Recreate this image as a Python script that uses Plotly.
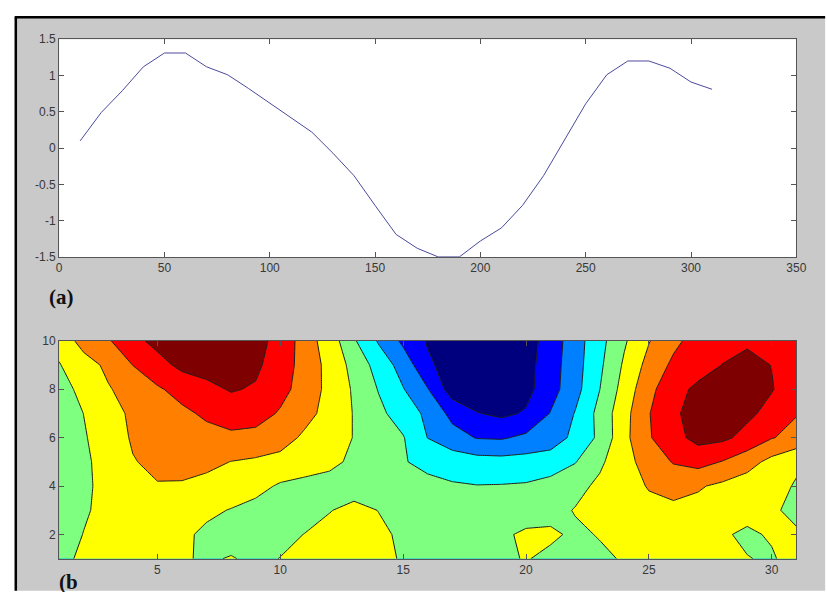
import plotly.graph_objects as go

# ---- data: panel (a) line ----
line_x = [10, 20, 30, 40, 50, 60, 70, 80, 90, 100, 110, 120, 130, 140, 150, 160,
          170, 180, 190, 200, 210, 220, 230, 240, 250, 260, 270, 280, 290, 300, 310]
line_y = [0.10, 0.49, 0.79, 1.12, 1.31, 1.31, 1.12, 1.01, 0.82, 0.62, 0.41, 0.22,
          -0.07, -0.38, -0.79, -1.19, -1.38, -1.50, -1.50, -1.28, -1.10, -0.79,
          -0.38, 0.11, 0.61, 1.01, 1.20, 1.20, 1.10, 0.91, 0.81]

# ---- data: panel (b) filled contour (rows y=1..10, columns x=1..31) ----
grid_x = list(range(1, 32))
grid_y = list(range(1, 11))
z_row1 = [0.2, 0.7, 0.9, 1.0, 0.95, 0.6, 0.38, 0.56, 0.3, 0.52, 0.8, 1.0, 1.0, 0.7, 0.43, 0.2,
          0.1, 0.15, 0.35, 0.55, 0.3, 0.2, 0.35, 0.57, 0.9, 1.1, 1.0, 0.8, 0.53, 0.4, 0.9]
z_row2 = [0.1, 0.52, 0.8, 0.95, 0.9, 0.7, 0.3, 0.1, 0.1, 0.25, 0.52, 0.85, 0.9, 0.7, 0.33, 0.1,
          0.0, 0.1, 0.3, 0.7, 0.65, 0.35, 0.55, 0.9, 1.1, 1.2, 1.0, 0.6, 0.35, 0.6, 0.68]
z_row3 = [-0.2, 0.4, 0.75, 0.9, 1.0, 0.95, 0.7, 0.45, 0.2, 0.1, 0.15, 0.45, 0.8, 0.48, 0.2, 0.0,
          -0.1, -0.2, -0.2, -0.1, 0.2, 0.55, 1.0, 1.2, 1.3, 1.3, 1.2, 1.0, 0.8, 0.7, 0.15]
z_row4 = [-0.15, 0.35, 0.75, 1.1, 1.45, 1.4, 1.2, 1.1, 0.8, 0.38, 0.2, 0.1, 0.0, -0.1, -0.2, -0.3,
          -0.4, -0.47, -0.45, -0.4, -0.2, 0.2, 0.7, 1.2, 1.55, 1.8, 1.6, 1.3, 1.0, 0.8, 0.425]
z_row5 = [-0.2, 0.33, 0.86, 1.45, 1.7, 1.85, 1.75, 1.48, 1.35, 1.2, 1.0, 0.75, 0.3, -0.07, -0.45, -0.7,
          -0.95, -1.1, -1.15, -1.1, -0.95, -0.55, 0.32, 1.17, 1.9, 2.57, 2.85, 2.45, 1.9, 1.2, 0.65]
z_row6 = [-0.18, 0.41, 1.0, 1.6, 1.8, 2.0, 2.2, 2.3, 2.2, 1.9, 1.33, 0.9, 0.47, 0.02, -0.44, -1.52,
          -2.1, -2.55, -2.6, -2.3, -2.06, -1.23, -0.3, 1.23, 2.41, 3.18, 3.8, 3.7, 3.2, 2.55, 2.2]
z_row7 = [-0.14, 0.51, 1.16, 1.66, 1.98, 2.31, 2.65, 2.95, 2.9, 2.4, 1.81, 1.17, 0.45, -0.27, -0.96, -1.71,
          -2.8, -3.45, -3.7, -3.4, -2.45, -1.45, -0.19, 1.17, 2.45, 3.4, 3.75, 3.9, 3.7, 3.2, 2.55]
z_row8 = [0.12, 0.77, 1.42, 1.91, 2.38, 2.82, 3.23, 3.58, 3.4, 2.81, 2.09, 1.22, 0.38, -0.55, -1.45, -2.45,
          -4.0, -4.2, -4.2, -3.8, -2.89, -1.85, -0.51, 0.9, 2.22, 3.17, 3.7, 4.0, 4.0, 3.55, 3.0]
z_row9 = [0.45, 1.06, 1.72, 2.51, 3.13, 3.75, 3.9, 3.85, 3.69, 2.97, 2.15, 1.18, 0.19, -0.9, -1.9, -3.3,
          -4.0, -4.3, -4.2, -3.86, -2.95, -1.91, -0.69, 0.65, 1.83, 2.7, 3.1, 3.52, 3.8, 3.48, 3.0]
z_row10 = [0.8, 1.9, 2.4, 3.2, 3.8, 4.1, 4.2, 4.0, 3.62, 3.38, 1.91, 1.09, -0.38, -1.6, -2.7, -3.6,
           -4.2, -4.5, -4.4, -3.94, -3.06, -1.94, -0.83, 0.375, 1.45, 2.27, 2.9, 3.2, 3.35, 3.1, 2.9]
z_grid = [z_row1, z_row2, z_row3, z_row4, z_row5, z_row6, z_row7, z_row8, z_row9, z_row10]

band_colors = ["#00007f", "#0000ff", "#007fff", "#00ffff", "#7fff7f",
               "#ffff00", "#ff7f00", "#ff0000", "#7f0000"]

top_xticks = [0, 50, 100, 150, 200, 250, 300, 350]
top_yticks = [-1.5, -1, -0.5, 0, 0.5, 1, 1.5]
top_yticktext = ["-1.5", "-1", "-0.5", "0", "0.5", "1", "1.5"]
bot_xticks = [5, 10, 15, 20, 25, 30]
bot_yticks = [2, 4, 6, 8, 10]

W, H = 827, 592
# discrete colorscale
n = len(band_colors)
cscale = []
for i, c in enumerate(band_colors):
    cscale.append([i / n, c])
    cscale.append([(i + 1) / n, c])

fig = go.Figure()
fig.add_trace(go.Scatter(x=line_x, y=line_y, mode="lines",
                         line=dict(color="#4a4a9c", width=1),
                         xaxis="x", yaxis="y", showlegend=False, hoverinfo="skip"))
fig.add_trace(go.Contour(x=grid_x, y=grid_y, z=z_grid, xaxis="x2", yaxis="y2",
                         autocontour=False, showlegend=False,
                         contours=dict(start=-3.5, end=3.5, size=1, coloring="fill"),
                         colorscale=cscale, zmin=-4.5, zmax=4.5, showscale=False,
                         line=dict(color="#1e1e1e", width=1, smoothing=0), hoverinfo="skip"))

axis_common = dict(showline=True, linecolor="#555555", linewidth=1, mirror="ticks",
                   ticks="inside", ticklen=5, tickcolor="#555555", showgrid=False,
                   zeroline=False, tickfont=dict(family="Liberation Sans", size=12, color="#383838"))

xd = [57 / W, 806 / W]
fig.update_layout(
    width=W, height=H,
    showlegend=False,
    margin=dict(l=0, r=0, t=0, b=0, pad=0),
    paper_bgcolor="#ffffff", plot_bgcolor="#ffffff",
    xaxis=dict(domain=xd, range=[0, 350], tickvals=top_xticks, anchor="y", **axis_common),
    yaxis=dict(domain=[1 - 256 / H, 1 - 33 / H], range=[-1.5, 1.5], tickvals=top_yticks,
               ticktext=top_yticktext, anchor="x", **axis_common),
    xaxis2=dict(domain=xd, range=[1, 31], tickvals=bot_xticks, anchor="y2", **axis_common),
    yaxis2=dict(domain=[1 - 565 / H, 1 - 342 / H], range=[1, 10], tickvals=bot_yticks,
                anchor="x2", **axis_common),
    shapes=[
        dict(type="rect", xref="paper", yref="paper", x0=12 / W, x1=1.01, y0=-0.01, y1=1 - 10 / H,
             fillcolor="#c9c9c9", line=dict(width=0), layer="below"),
        dict(type="rect", xref="x domain", yref="y domain", x0=0, x1=1, y0=0, y1=1,
             fillcolor="#ffffff", line=dict(width=0), layer="below"),
        dict(type="line", xref="paper", yref="paper", x0=12 / W, x1=1.01, y0=1 - 10.5 / H, y1=1 - 10.5 / H,
             line=dict(color="black", width=2.5), layer="below"),
        dict(type="line", xref="paper", yref="paper", x0=13 / W, x1=13 / W, y0=-0.01, y1=1 - 10 / H,
             line=dict(color="black", width=2.5), layer="below"),
    ],
    annotations=[
        dict(text="<b>(a)</b>", xref="paper", yref="paper", x=45 / W, y=1 - 297 / H,
             xanchor="left", yanchor="middle", showarrow=False,
             font=dict(family="Liberation Serif", size=21, color="#111111")),
        dict(text="<b>(b</b>", xref="paper", yref="paper", x=55 / W, y=1 - 589 / H,
             xanchor="left", yanchor="middle", showarrow=False,
             font=dict(family="Liberation Serif", size=21, color="#111111")),
    ],
)

fig.write_html("out.html", config={"displayModeBar": False})
